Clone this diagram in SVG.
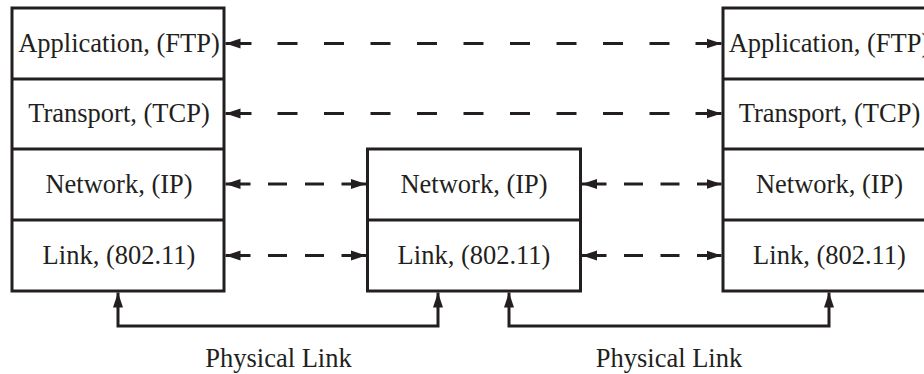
<svg xmlns="http://www.w3.org/2000/svg" width="924" height="374" viewBox="0 0 924 374">
<style>
  .box { fill: #ffffff; stroke: #231f20; stroke-width: 3; }
  .div { stroke: #231f20; stroke-width: 3; }
  .lbl { font-family: 'Liberation Serif', 'DejaVu Serif', serif; font-size: 26.5px; fill: #231f20; text-anchor: middle; }
  .conn { fill: none; stroke: #231f20; stroke-width: 3; marker-start: url(#ah); marker-end: url(#ah); }
  .long { stroke-dasharray: 26 26 20 26.5 20 26.5 20 26.5 20 26.5 20 26.5 20 26.5 20 26.5 20 26.5 20 26 26; }
  .shortL { stroke-dasharray: 25 17.5 19 18 19 17.5 24.5; }
  .shortR { stroke-dasharray: 24.5 17.5 19 17.5 19 17.5 24.5; }
</style>
<defs>
  <marker id="ah" markerUnits="userSpaceOnUse" markerWidth="16" markerHeight="11" refX="15" refY="5" orient="auto-start-reverse" viewBox="0 0 16 10">
    <path d="M0,0 L15,5 L0,10 Z" fill="#231f20"/>
  </marker>
</defs>

<g id="host-left">
  <rect class="box" x="12" y="8" width="212" height="283"/>
  <line class="div" x1="12" y1="79" x2="224" y2="79"/>
  <line class="div" x1="12" y1="149" x2="224" y2="149"/>
  <line class="div" x1="12" y1="220" x2="224" y2="220"/>
  <text class="lbl" font-family="Liberation Serif, serif" x="119" y="51.5">Application, (FTP)</text>
  <text class="lbl" font-family="Liberation Serif, serif" x="119" y="122">Transport, (TCP)</text>
  <text class="lbl" font-family="Liberation Serif, serif" x="119" y="192.5">Network, (IP)</text>
  <text class="lbl" font-family="Liberation Serif, serif" x="119" y="263.5">Link, (802.11)</text>
</g>

<g id="router-middle">
  <rect class="box" x="367.5" y="149" width="213" height="142"/>
  <line class="div" x1="367.5" y1="220" x2="580.5" y2="220"/>
  <text class="lbl" font-family="Liberation Serif, serif" x="474" y="192.5">Network, (IP)</text>
  <text class="lbl" font-family="Liberation Serif, serif" x="474" y="263.5">Link, (802.11)</text>
</g>

<g id="host-right">
  <rect class="box" x="723" y="8" width="213" height="283"/>
  <line class="div" x1="723" y1="79" x2="936" y2="79"/>
  <line class="div" x1="723" y1="149" x2="936" y2="149"/>
  <line class="div" x1="723" y1="220" x2="936" y2="220"/>
  <text class="lbl" font-family="Liberation Serif, serif" x="829.5" y="51.5">Application, (FTP)</text>
  <text class="lbl" font-family="Liberation Serif, serif" x="829.5" y="122">Transport, (TCP)</text>
  <text class="lbl" font-family="Liberation Serif, serif" x="829.5" y="192.5">Network, (IP)</text>
  <text class="lbl" font-family="Liberation Serif, serif" x="829.5" y="263.5">Link, (802.11)</text>
</g>

<g id="connectors">
  <line class="conn long" x1="225.5" y1="43.5" x2="721.5" y2="43.5"/>
  <line class="conn long" x1="225.5" y1="113.5" x2="721.5" y2="113.5"/>
  <line class="conn shortL" x1="225.5" y1="184" x2="366" y2="184"/>
  <line class="conn shortL" x1="225.5" y1="255.5" x2="366" y2="255.5"/>
  <line class="conn shortR" x1="582" y1="184" x2="721.5" y2="184"/>
  <line class="conn shortR" x1="582" y1="255.5" x2="721.5" y2="255.5"/>
  <polyline class="conn" points="118,292.5 118,326 438,326 438,292.5"/>
  <polyline class="conn" points="509,292.5 509,326 829,326 829,292.5"/>
</g>

<g id="labels">
  <text class="lbl" font-family="Liberation Serif, serif" x="278.5" y="367">Physical Link</text>
  <text class="lbl" font-family="Liberation Serif, serif" x="669" y="367">Physical Link</text>
</g>
</svg>
